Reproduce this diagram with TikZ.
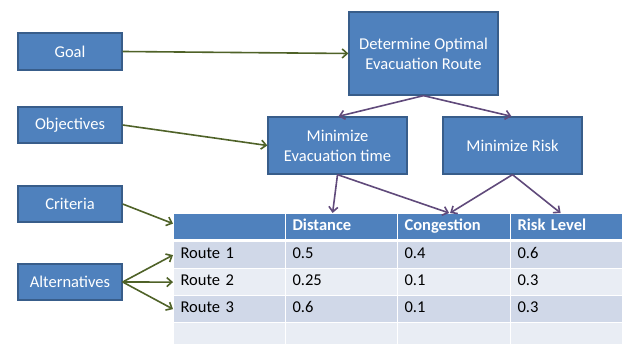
\documentclass[tikz,border=0pt]{standalone}
\usepackage{fontspec}
\setmainfont{Carlito}
\usetikzlibrary{arrows.meta}
\definecolor{boxfill}{HTML}{4F81BD}
\definecolor{boxline}{HTML}{385D8A}
\definecolor{rowA}{HTML}{D0D8E8}
\definecolor{rowB}{HTML}{E9EDF4}
\definecolor{greenarr}{HTML}{4F6228}
\definecolor{purparr}{HTML}{604A7B}
\tikzset{
  blk/.style={draw=boxline, line width=1.3pt, fill=boxfill, text=white, align=center,
    font=\fontsize{16.5}{20}\selectfont, inner sep=0pt},
  cell/.style={draw=white, line width=1.2pt, anchor=north west, inner xsep=7pt, inner ysep=0pt,
    text width=#1, font=\fontsize{16.5}{19}\selectfont, align=left},
  hcell/.style={cell=#1, fill=boxfill, text=white, font=\fontsize{16.5}{19}\selectfont\bfseries, minimum height=26pt},
  rcellA/.style={cell=#1, fill=rowA, text=black, minimum height=27pt},
  rcellB/.style={cell=#1, fill=rowB, text=black, minimum height=27pt},
  garr/.style={draw=greenarr, line width=1.6pt, -{Straight Barb[length=5pt,width=9pt]}},
  parr/.style={draw=purparr, line width=1.6pt, -{Straight Barb[length=5pt,width=9pt]}},
}
\begin{document}
\begin{tikzpicture}[x=1pt,y=-1pt]
\useasboundingbox (0,0) rectangle (622,344);
% left boxes
\node[blk, minimum width=104pt, minimum height=37pt] (goal) at (70,51.5) {Goal};
\node[blk, minimum width=104pt, minimum height=36pt] (obj) at (70,125) {Objectives};
\node[blk, minimum width=104pt, minimum height=36pt] (crit) at (70,204) {Criteria};
\node[blk, minimum width=104pt, minimum height=36pt] (alt) at (70,282) {Alternatives};
% hierarchy
\node[blk, minimum width=149pt, minimum height=83pt] (det) at (423.5,53.5) {Determine Optimal\\Evacuation Route};
\node[blk, minimum width=139pt, minimum height=57pt] (mevac) at (337.5,145.5) {Minimize\\Evacuation time};
\node[blk, minimum width=139pt, minimum height=57pt] (mrisk) at (512.5,145.5) {Minimize Risk};
% table
\node[hcell=98pt] (h0) at (173,213) {\strut};
\node[hcell=98pt] (h1) at (285,213) {\strut Distance};
\node[hcell=99pt] (h2) at (397,213) {\strut Congestion};
\node[hcell=98pt] (h3) at (510,213) {\strut Risk Level};
\draw[white, line width=2pt] (173,240) -- (622,240);
\node[rcellA=98pt] (r1c0) at (173,241) {\strut Route 1};
\node[rcellA=98pt] (r1c1) at (285,241) {\strut 0.5};
\node[rcellA=99pt] (r1c2) at (397,241) {\strut 0.4};
\node[rcellA=98pt] (r1c3) at (510,241) {\strut 0.6};
\node[rcellB=98pt] (r2c0) at (173,268) {\strut Route 2};
\node[rcellB=98pt] (r2c1) at (285,268) {\strut 0.25};
\node[rcellB=99pt] (r2c2) at (397,268) {\strut 0.1};
\node[rcellB=98pt] (r2c3) at (510,268) {\strut 0.3};
\node[rcellA=98pt] (r3c0) at (173,295) {\strut Route 3};
\node[rcellA=98pt] (r3c1) at (285,295) {\strut 0.6};
\node[rcellA=99pt] (r3c2) at (397,295) {\strut 0.1};
\node[rcellA=98pt] (r3c3) at (510,295) {\strut 0.3};
\node[rcellB=98pt] (r4c0) at (173,322) {};
\node[rcellB=98pt] (r4c1) at (285,322) {};
\node[rcellB=99pt] (r4c2) at (397,322) {};
\node[rcellB=98pt] (r4c3) at (510,322) {};
% green arrows
\draw[garr] (goal.east) -- (det.west);
\draw[garr] (obj.east) -- (mevac.west);
\draw[garr] (crit.east) -- ([yshift=3pt]h0.west);
\draw[garr] (alt.east) -- (r1c0.west);
\draw[garr] (alt.east) -- (r2c0.west);
\draw[garr] (alt.east) -- (r3c0.west);
% purple arrows
\draw[parr] (det.south) -- ([xshift=1pt]mevac.north);
\draw[parr] (det.south) -- ([xshift=-1pt]mrisk.north);
\draw[parr] (mevac.south) -- ([xshift=-9pt]h1.north);
\draw[parr] (mevac.south) -- ([xshift=-5pt]h2.north);
\draw[parr] (mrisk.south) -- ([xshift=-4pt]h2.north);
\draw[parr] (mrisk.south) -- ([xshift=-6pt]h3.north);
\end{tikzpicture}
\end{document}
